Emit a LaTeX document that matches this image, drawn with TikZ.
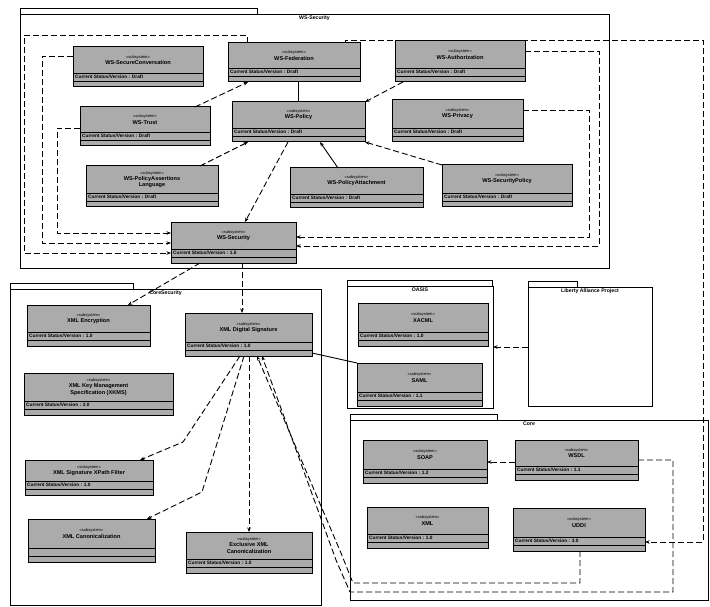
\documentclass[tikz,border=0pt]{standalone}
\usepackage{fontspec}
\setmainfont{Liberation Sans}
\usetikzlibrary{arrows.meta,calc}
\tikzset{
  boxfill/.style={fill=black!33},
  boxline/.style={draw=black,line width=1pt},
  btext/.style={inner sep=0pt,align=center,font=\fontsize{5.6}{6.2}\selectfont\bfseries},
  stext/.style={inner sep=0pt,font=\fontsize{4.8}{5.2}\selectfont\bfseries},
  pkgline/.style={draw=black,line width=0.7pt},
  pkglabel/.style={inner sep=1pt,font=\fontsize{5.2}{6}\selectfont\bfseries},
  dep/.style={draw=black,line width=0.9pt,dash pattern=on 6pt off 3pt,-{Stealth[length=4.5pt,width=3.5pt]}},
  solidarr/.style={draw=black,line width=0.9pt,-{Stealth[length=4.5pt,width=3.5pt]}},
  solidline/.style={draw=black,line width=0.9pt}
}
% name, x1, y1, x2, y2, title, status
\newcommand\ubox[7]{%
  \pgfmathsetmacro\ucx{(#2+#4)/2}%
  \pgfmathsetmacro\ucy{(#3+#5)/2}%
  \pgfmathsetmacro\uw{#4-#2}%
  \pgfmathsetmacro\uh{#5-#3}%
  \pgfmathsetmacro\uyl{#5-14}%
  \pgfmathsetmacro\uym{#5-6}%
  \pgfmathsetmacro\uyt{(#3+#5-14)/2}%
  \pgfmathsetmacro\uys{(2*#5-20)/2}%
  \fill[boxfill] (#2,#3) rectangle (#4,#5);
  \node[boxline,inner sep=0pt,outer sep=0pt,minimum width=\uw pt,minimum height=\uh pt] (#1) at (\ucx,\ucy) {};
  \draw[line width=0.8pt] (#2,\uyl) -- (#4,\uyl);
  \draw[line width=0.6pt] (#2,\uym) -- (#4,\uym);
  \node[btext] (#1-t) at (\ucx,\uyt) {{\mdseries\fontsize{4}{4.8}\selectfont «subsystem»}\\#6};
  \node[stext,anchor=west] (#1-s) at (#2+2,\uys) {#7};
}
% name, x1, y1(top of body), x2, y2, tab right, label
\newcommand\upkg[7]{%
  \pgfmathsetmacro\ucx{(#2+#4)/2}%
  \pgfmathsetmacro\ucy{(#3+#5)/2}%
  \pgfmathsetmacro\uw{#4-#2}%
  \pgfmathsetmacro\uh{#5-#3}%
  \draw[pkgline] (#2,#3-6) rectangle (#6,#3);
  \node[pkgline,inner sep=0pt,outer sep=0pt,minimum width=\uw pt,minimum height=\uh pt] (#1) at (\ucx,\ucy) {};
  \node[pkglabel,anchor=north] (#1-lbl) at (\ucx,#3+1) {#7};
}
\begin{document}
\begin{tikzpicture}[x=1pt,y=-1pt]
\useasboundingbox (0,0) rectangle (710,607);
\fill[white] (0,0) rectangle (710,607);

% packages
\upkg{WSS}{20}{14}{609}{268}{257}{WS-Security}
\upkg{CS}{10}{289}{321}{605}{133}{CoreSecurity}
\upkg{OASIS}{347}{286}{493}{408}{492}{OASIS}
\upkg{LAP}{528}{287}{652}{406}{577}{Liberty Alliance Project}
\upkg{CORE}{350}{420}{708}{600}{497}{Core}

% WS-Security boxes
\ubox{B1}{73}{47}{203}{87}{WS-SecureConversation}{Current Status/Version : Draft}
\ubox{B2}{228}{43}{360}{82}{WS-Federation}{Current Status/Version : Draft}
\ubox{B3}{395}{41}{525}{82}{WS-Authorization}{Current Status/Version : Draft}
\ubox{B4}{80}{107}{210}{146}{WS-Trust}{Current Status/Version : Draft}
\ubox{B5}{232}{102}{365}{142}{WS-Policy}{Current Status/Version : Draft}
\ubox{B6}{392}{100}{523}{142}{WS-Privacy}{Current Status/Version : Draft}
\ubox{B7}{86}{166}{218}{207}{WS-PolicyAssertions\\Language}{Current Status/Version : Draft}
\ubox{B8}{290}{168}{423}{208}{WS-PolicyAttachment}{Current Status/Version : Draft}
\ubox{B9}{442}{165}{572}{207}{WS-SecurityPolicy}{Current Status/Version : Draft}
\ubox{B10}{171}{222}{296}{263}{WS-Security}{Current Status/Version : 1.0}

% CoreSecurity boxes
\ubox{C1}{27}{305}{150}{346}{XML Encryption}{Current Status/Version : 1.0}
\ubox{C2}{185}{313}{312}{356}{XML Digital Signature}{Current Status/Version : 1.0}
\ubox{C3}{24}{373}{173}{415}{XML Key Management\\Specification (XKMS)}{Current Status/Version : 2.0}
\ubox{C4}{25}{460}{153}{495}{XML Signature XPath Filter}{Current Status/Version : 1.0}
\ubox{C5}{28}{519}{155}{562}{XML Canonicalization}{}
\ubox{C6}{186}{532}{312}{573}{Exclusive XML\\Canonicalization}{Current Status/Version : 1.0}

% OASIS boxes
\ubox{XACML}{358}{303}{488}{346}{XACML}{Current Status/Version : 1.0}
\ubox{SAML}{357}{363}{482}{406}{SAML}{Current Status/Version : 1.1}

% Core boxes
\ubox{SOAP}{363}{440}{487}{483}{SOAP}{Current Status/Version : 1.2}
\ubox{WSDL}{515}{440}{638}{480}{WSDL}{Current Status/Version : 1.1}
\ubox{XML}{367}{507}{488}{548}{XML}{Current Status/Version : 1.0}
\ubox{UDDI}{513}{508}{645}{551}{UDDI}{Current Status/Version : 3.0}

% WS-Security loops into WS-Security box
\draw[dep] (B2.north -| 247,0) -- (247,35) -- (24,35) -- (24,253) -- (B10.west |- 0,253);
\draw[dep] (B1.west |- 0,56) -- (42,56) -- (42,243) -- (B10.west |- 0,243);
\draw[dep] (B4.west |- 0,128) -- (57,128) -- (57,233) -- (B10.west |- 0,233);
\draw[dep] (B3.east |- 0,51) -- (599,51) -- (599,246) -- (B10.east |- 0,246);
\draw[dep] (B6.east |- 0,110) -- (589,110) -- (589,237) -- (B10.east |- 0,237);

% WS-Security internal
\draw[dep] (B4.north -| 195,0) -- (B2.south -| 248,0);
\draw[solidline] (B2.south -| 298,0) -- (B5.north -| 298,0);
\draw[dep] (B3.south -| 403,0) -- (B5.north east);
\draw[dep] (B9.north west) -- (B5.south east);
\draw[dep] (B7.north -| 200,0) -- (B5.south -| 248,0);
\draw[solidarr] (B8.north -| 338,0) -- (B5.south -| 320,0);
\draw[dep] (B5.south -| 288,0) -- (B10.north -| 245,0);

% WS-Security to CoreSecurity
\draw[dep] (B10.south -| 200,0) -- (C1.north -| 128,0);
\draw[dep] (B10.south -| 242,0) -- (C2.north -| 242,0);

% CoreSecurity internal
\draw[dep] (C2.south -| 240,0) -- (183,442) -- (C4.north -| 140,0);
\draw[dep] (C2.south -| 244,0) -- (202,492) -- (C5.north -| 147,0);
\draw[dep] (C2.south -| 249,0) -- (C6.north -| 249,0);
\draw[solidline] (C2.east |- 0,353) -- (SAML.north west);

% Core to CoreSecurity
\draw[dep] (UDDI.south -| 580,0) -- (580,583) -- (353,583) -- (341,553) -- (C2.south -| 257,0);
\draw[dep] (WSDL.east |- 0,460) -- (673,460) -- (673,592) -- (350,592) -- (336,560) -- (C2.south -| 262,0);

% Core internal
\draw[dep] (WSDL.west |- 0,462) -- (SOAP.east |- 0,462);

% Liberty to OASIS
\draw[dep] (LAP.west |- 0,347) -- (OASIS.east |- 0,347);

% far right connector
\draw[dep] (B2.north -| 345,0) -- (345,40) -- (703,40) -- (703,542) -- (UDDI.east |- 0,542);
\end{tikzpicture}
\end{document}
